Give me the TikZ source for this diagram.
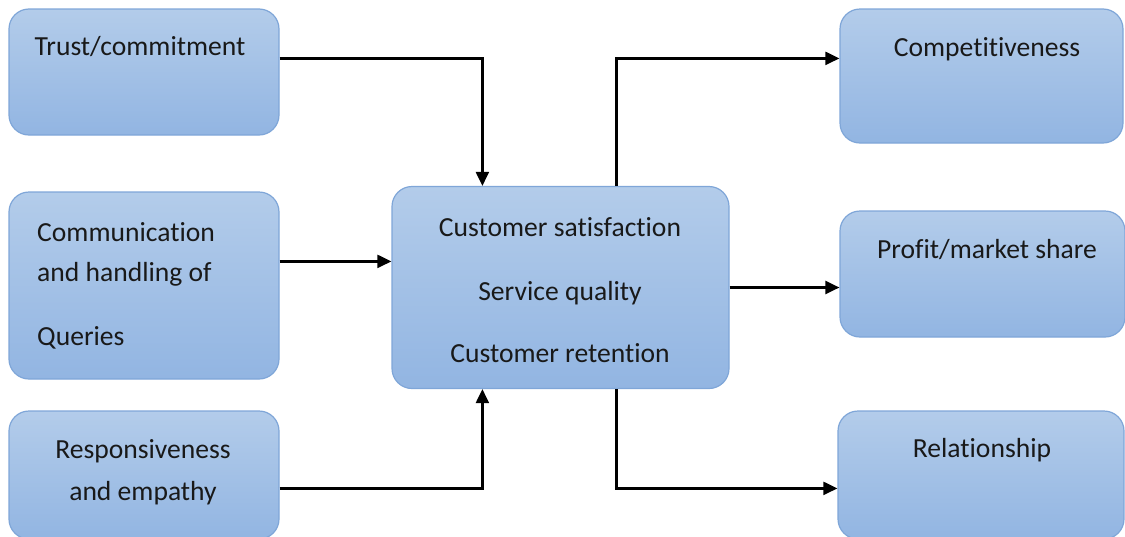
\documentclass[tikz,border=0pt]{standalone}
\usepackage{fontspec}
\setmainfont{Carlito}[Ligatures=NoCommon]
\usetikzlibrary{arrows.meta,calc}
\definecolor{boxtop}{HTML}{B3CCEA}
\definecolor{boxbot}{HTML}{92B5E2}
\definecolor{boxline}{HTML}{7FA6D8}
\tikzset{
  box/.style={draw=boxline, line width=1.2pt, rounded corners=20pt,
    top color=boxtop, bottom color=boxbot, inner sep=0pt},
  lbl/.style={font=\fontsize{27.6}{32}\selectfont, text=black!90, inner sep=0pt, anchor=base},
  lbll/.style={lbl, anchor=base west},
  arr/.style={line width=2.2pt, -{Triangle[length=14pt,width=13pt]}}
}
\begin{document}
\begin{tikzpicture}[x=1pt,y=-1pt]
\useasboundingbox (0,0) rectangle (1125,536);
% boxes
\node[box, minimum width=270pt, minimum height=126pt] (trust) at (144,72) {};
\node[box, minimum width=270pt, minimum height=187pt] (comm) at (144,285.5) {};
\node[box, minimum width=270pt, minimum height=128pt] (resp) at (144,475) {};
\node[box, minimum width=337pt, minimum height=202pt] (center) at (560.5,287.5) {};
\node[box, minimum width=283pt, minimum height=134pt] (comp) at (981.5,76) {};
\node[box, minimum width=285pt, minimum height=126pt] (profit) at (982.5,274) {};
\node[box, minimum width=286pt, minimum height=128pt] (rel) at (981,475) {};
% labels
\node[lbl] (trustT) at (140,55) {Trust/commitment};
\node[lbll] (commA) at (37,241) {Communication};
\node[lbll] (commB) at (37,281) {and handling of};
\node[lbll] (commC) at (37,345) {Queries};
\node[lbl] (respA) at (143,458) {Responsiveness};
\node[lbl] (respB) at (143,500) {and empathy};
\node[lbl] (cenA) at (560,236) {Customer satisfaction};
\node[lbl] (cenB) at (560,300) {Service quality};
\node[lbl] (cenC) at (560,362) {Customer retention};
\node[lbl] (compT) at (987,56) {Competitiveness};
\node[lbl] (profitT) at (987,258) {Profit/market share};
\node[lbl] (relT) at (982,457) {Relationship};
% connectors
\draw[arr] ([yshift=-50pt]trust.north east) -| ([xshift=91pt]center.north west);
\draw[arr] ([yshift=-70pt]comm.north east) -- ([yshift=-70pt]comm.north east -| center.west);
\draw[arr] ([yshift=-78pt]resp.north east) -| ([xshift=91pt]center.south west);
\draw[arr] ([xshift=225pt]center.north west) |- ([yshift=-50pt]comp.north west);
\draw[arr] (center.east) -- (center.east -| profit.west);
\draw[arr] ([xshift=225pt]center.south west) |- ([yshift=-78pt]rel.north west);
\end{tikzpicture}
\end{document}
